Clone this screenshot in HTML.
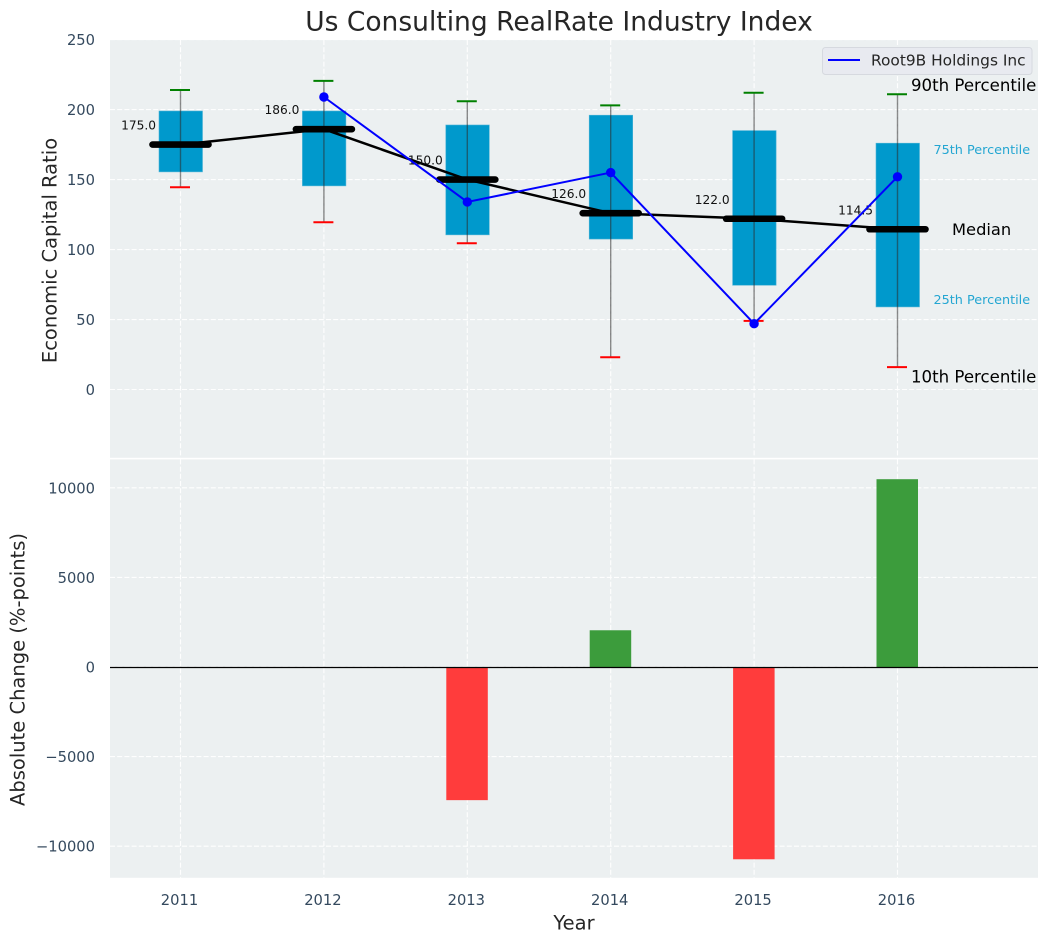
<!DOCTYPE html>
<html>
<head>
<meta charset="utf-8">
<title>Us Consulting RealRate Industry Index</title>
<style>
html,body{margin:0;padding:0;background:#fff;}
svg{display:block;font-family:"DejaVu Sans","Liberation Sans",sans-serif;}
</style>
</head>
<body>
<svg id="chart" width="1048" height="942" viewBox="0 0 1048 942" xmlns="http://www.w3.org/2000/svg">
  <rect x="110" y="40" width="928" height="417.8" fill="#ecf0f1"/>
  <rect x="110" y="459.4" width="928" height="418.4" fill="#ecf0f1"/>
  <text x="559" y="30.500" font-size="26.5" fill="#262626" text-anchor="middle">Us Consulting RealRate Industry Index</text>
  <text transform="translate(56.500,250.500) rotate(-90)" font-size="19.5" fill="#262626" text-anchor="middle">Economic Capital Ratio</text>
  <text transform="translate(24.500,669.500) rotate(-90)" font-size="19.5" fill="#262626" text-anchor="middle">Absolute Change (%-points)</text>
  <text x="574" y="929.500" font-size="19.5" fill="#262626" text-anchor="middle">Year</text>
  <g id="grid"></g>
  <g id="bars"></g>
  <g id="boxes"></g>
  <g id="lines"></g>
  <g id="ticks"></g>
  <g id="callouts"></g>
  <g>
    <rect x="822.500" y="47.500" width="209.500" height="27" rx="3" fill="#e8eaf0" stroke="#d6d9df" stroke-width="1"/>
    <line x1="828" y1="60" x2="860" y2="60" stroke="#0000ff" stroke-width="2"/>
    <text x="871" y="65.500" font-size="15.4" fill="#262626">Root9B Holdings Inc</text>
  </g>
</svg>
<script>
var years = [2011, 2012, 2013, 2014, 2015, 2016];
var p90 = [214, 220.5, 206, 203, 212, 211];
var p75 = [199, 199, 189, 196, 185, 176];
var median = [175, 186, 150, 126, 122, 114.5];
var p25 = [155.5, 145.5, 110.5, 107.5, 74.5, 59];
var p10 = [144.5, 119.5, 104.5, 23, 49, 16];
var companyYears = [2012, 2013, 2014, 2015, 2016];
var companyValues = [209, 134, 155, 47, 152];
var changeYears = [2013, 2014, 2015, 2016];
var changeValues = [-7430, 2050, -10730, 10480];
var topTicks = [0, 50, 100, 150, 200, 250];
var bottomTicks = [-10000, -5000, 0, 5000, 10000];

var NS = 'http://www.w3.org/2000/svg';
function xPos(v) { return 180.5 + (v - 2011) * 143.4; }
function yTop(v) { return 389.5 - v * 1.3995; }
function yBot(v) { return 667 - v * 0.01792; }
function make(parent, tag, attrs, text) {
  var el = document.createElementNS(NS, tag);
  for (var k in attrs) el.setAttribute(k, attrs[k]);
  if (text !== undefined) el.textContent = text;
  document.getElementById(parent).appendChild(el);
  return el;
}
function fmt(v) { return String(v).replace('-', '\u2212'); }

var gridAttrs = { stroke: '#ffffff', 'stroke-width': 1.1, 'stroke-dasharray': '5 2.2', opacity: 0.95 };
function gridLine(x1, y1, x2, y2) {
  var a = { x1: x1, y1: y1, x2: x2, y2: y2 };
  for (var k in gridAttrs) a[k] = gridAttrs[k];
  return make('grid', 'line', a);
}

topTicks.forEach(function (t) {
  var g = gridLine(110, yTop(t), 1038, yTop(t));
  
  
  var l = make('ticks', 'text', { x: 95, y: yTop(t) + 5.5, 'font-size': 14.7, fill: '#34495e', 'text-anchor': 'end' }, fmt(t));
  
  
});
bottomTicks.forEach(function (t) {
  var g = gridLine(110, yBot(t), 1038, yBot(t));
  
  
  var l = make('ticks', 'text', { x: 95, y: yBot(t) + 5.5, 'font-size': 14.7, fill: '#34495e', 'text-anchor': 'end' }, fmt(t));
  
  
});
years.forEach(function (yr) {
  var g1 = gridLine(xPos(yr), 40, xPos(yr), 457.8);
  
  
  var g2 = gridLine(xPos(yr), 459.4, xPos(yr), 877.8);
  
  
  var l = make('ticks', 'text', { x: xPos(yr) - 1, y: 905, 'font-size': 14.7, fill: '#34495e', 'text-anchor': 'middle' }, String(yr));
  
  
});

changeYears.forEach(function (yr, i) {
  var v = changeValues[i];
  var top = Math.min(yBot(v), yBot(0));
  var b = make('bars', 'rect', { x: xPos(yr) - 21, y: top, width: 41.5, height: Math.abs(yBot(v) - yBot(0)), fill: v < 0 ? '#ff3c3c' : '#3c9c3c' });
  
  
});
var zero = make('bars', 'line', { x1: 110, y1: yBot(0) + 0.5, x2: 1038, y2: yBot(0) + 0.5, stroke: '#000', 'stroke-width': 1.2 });



years.forEach(function (yr, i) {
  var x = xPos(yr);
  var box = make('boxes', 'rect', { x: x - 21.5, y: yTop(p75[i]), width: 43.5, height: yTop(p25[i]) - yTop(p75[i]), fill: '#0099cc', stroke: '#4db3d6', 'stroke-width': 0.6 });
  
  
  var whisker = make('boxes', 'line', { x1: x, y1: yTop(p90[i]), x2: x, y2: yTop(p10[i]), stroke: '#2b2b2b', 'stroke-opacity': 0.55, 'stroke-width': 1.4 });
  
  
  var capHigh = make('boxes', 'line', { x1: x - 10.5, y1: yTop(p90[i]), x2: x + 9.5, y2: yTop(p90[i]), stroke: '#008000', 'stroke-width': 2 });
  
  
  var capLow = make('boxes', 'line', { x1: x - 10.5, y1: yTop(p10[i]), x2: x + 9.5, y2: yTop(p10[i]), stroke: '#ff0000', 'stroke-width': 2 });
  
  
});

var medianPoints = years.map(function (yr, i) { return xPos(yr) + ',' + yTop(median[i]); }).join(' ');
var medianLine = make('lines', 'polyline', { points: medianPoints, fill: 'none', stroke: '#000', 'stroke-width': 2.5 });



years.forEach(function (yr, i) {
  var x = xPos(yr), y = yTop(median[i]);
  var bar = make('lines', 'line', { x1: x - 28, y1: y, x2: x + 28, y2: y, stroke: '#000', 'stroke-width': 6.6, 'stroke-linecap': 'round' });
  
  
  var lab = make('lines', 'text', { x: x - 24.5, y: y - 15, 'font-size': 12.2, fill: '#111', 'text-anchor': 'end' }, median[i].toFixed(1));
  
  
});

var companyPoints = companyYears.map(function (yr, i) { return xPos(yr) + ',' + yTop(companyValues[i]); }).join(' ');
var companyLine = make('lines', 'polyline', { points: companyPoints, fill: 'none', stroke: '#0000ff', 'stroke-width': 2 });


companyYears.forEach(function (yr, i) {
  var dot = make('lines', 'circle', { cx: xPos(yr), cy: yTop(companyValues[i]), r: 4.7, fill: '#0000ff' });
  
  
});

var last = years.length - 1;
var lx = xPos(years[last]);
var c90 = make('callouts', 'text', { x: lx + 13.5, y: yTop(p90[last]) - 3, 'font-size': 16.6, fill: '#000' }, '90th Percentile');


var c75 = make('callouts', 'text', { x: lx + 36, y: yTop(p75[last]) + 11, 'font-size': 12.8, fill: '#0099cc', 'fill-opacity': 0.85 }, '75th Percentile');


var cMed = make('callouts', 'text', { x: lx + 54.5, y: yTop(median[last]) + 5.5, 'font-size': 16.3, fill: '#000' }, 'Median');


var c25 = make('callouts', 'text', { x: lx + 36, y: yTop(p25[last]) - 3, 'font-size': 12.8, fill: '#0099cc', 'fill-opacity': 0.85 }, '25th Percentile');


var c10 = make('callouts', 'text', { x: lx + 13.5, y: yTop(p10[last]) + 15.5, 'font-size': 16.6, fill: '#000' }, '10th Percentile');


</script>
</body>
</html>
